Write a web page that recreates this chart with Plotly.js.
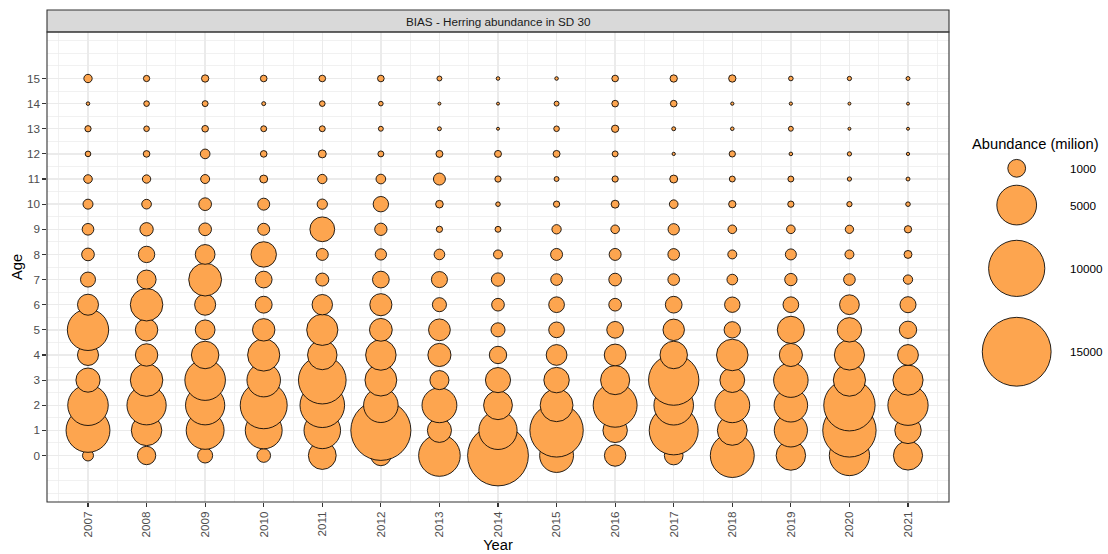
<!DOCTYPE html>
<html>
<head>
<meta charset="utf-8">
<script src="https://cdn.plot.ly/plotly-3.0.1.min.js"></script>
<style>
html,body{margin:0;padding:0;background:#ffffff;}
#chart{width:1108px;height:554px;}
</style>
</head>
<body>
<div id="chart"></div>
<script>
// ---------------- DATA ----------------
const years = [2007, 2008, 2009, 2010, 2011, 2012, 2013, 2014, 2015, 2016, 2017, 2018, 2019, 2020, 2021];
const ages  = [0, 1, 2, 3, 4, 5, 6, 7, 8, 9, 10, 11, 12, 13, 14, 15];
const yTickLabels = ['0','1','2','3','4','5','6','7','8','9','10','11','12','13','14','15'];
const xTickLabels = ['2007','2008','2009','2010','2011','2012','2013','2014','2015','2016','2017','2018','2019','2020','2021'];

// abundance (million) by age 0..15, one array per year
const ab2007 = [380, 6100, 5200, 1850, 1400, 5400, 1400, 715, 510, 430, 315, 235, 100, 125, 40, 220];
const ab2008 = [1070, 2950, 4880, 3350, 1590, 1590, 3350, 1150, 850, 565, 295, 220, 140, 100, 100, 125];
const ab2009 = [715, 4550, 4880, 5215, 2390, 1235, 1405, 3420, 1235, 510, 510, 255, 295, 140, 112, 170];
const ab2010 = [595, 4310, 6990, 3560, 3280, 1590, 900, 885, 2050, 455, 455, 200, 140, 112, 50, 140];
const ab2011 = [2450, 4230, 6300, 7190, 2750, 3080, 1320, 535, 455, 1945, 335, 275, 200, 112, 100, 140];
const ab2012 = [1320, 11430, 3780, 3210, 2945, 1640, 1545, 885, 405, 480, 750, 295, 112, 77, 67, 140];
const ab2013 = [5480, 1840, 3850, 1150, 1690, 1500, 625, 815, 360, 125, 185, 455, 155, 49, 21, 77];
const ab2014 = [11690, 4630, 2630, 2000, 955, 625, 510, 565, 255, 112, 67, 125, 153, 16, 21, 41];
const ab2015 = [3630, 9020, 3420, 2050, 1365, 780, 780, 430, 455, 275, 125, 77, 153, 100, 77, 41];
const ab2016 = [1455, 1890, 6115, 2690, 1500, 885, 510, 510, 455, 235, 200, 125, 112, 170, 140, 140];
const ab2017 = [1110, 7600, 4960, 8020, 2390, 1455, 885, 430, 430, 405, 235, 200, 34, 49, 140, 170];
const ab2018 = [6115, 2820, 3850, 1945, 3145, 850, 750, 360, 255, 235, 170, 112, 125, 41, 34, 170];
const ab2019 = [2750, 3490, 3560, 3775, 1690, 2330, 780, 480, 385, 235, 125, 112, 41, 77, 34, 67];
const ab2020 = [5130, 9020, 8350, 3280, 2880, 1890, 1235, 430, 255, 218, 88, 58, 58, 27, 3, 58];
const ab2021 = [2690, 2215, 5130, 2880, 1365, 955, 815, 275, 200, 170, 67, 49, 34, 12, 8, 49];
const abundanceByYear = [ab2007, ab2008, ab2009, ab2010, ab2011, ab2012, ab2013, ab2014,
                         ab2015, ab2016, ab2017, ab2018, ab2019, ab2020, ab2021];

const legendValues = [1000, 5000, 10000, 15000];
const legendLabels = ['1000', '5000', '10000', '15000'];
const stripTitle  = 'BIAS - Herring abundance in SD 30';
const legendTitle = 'Abundance (milion)';
const xTitle = 'Year';
const yTitle = 'Age';

// ---------------- LAYOUT / STYLE ----------------
const W = 1108, H = 554;
const M = {l: 47, r: 5, t: 32, b: 52};
const plotW = W - M.l - M.r;
const plotH = H - M.t - M.b;
const panelRightPx = 949;
const xDomEnd = (panelRightPx - M.l) / plotW;
const stripH = 22;

const FONT = 'Liberation Sans, Arial, sans-serif';
const FILL = '#FDA54F';
const diamPerSqrt = 0.562;                 // diameter(px) per sqrt(value)
const sizeref = 2 / (diamPerSqrt * diamPerSqrt);

const xs = [], ys = [], ss = [];
years.forEach((yr, i) => {
  ages.forEach((a, j) => {
    xs.push(yr); ys.push(a); ss.push(abundanceByYear[i][j]);
  });
});

const mainTrace = {
  type: 'scatter', mode: 'markers',
  x: xs, y: ys,
  xaxis: 'x', yaxis: 'y',
  marker: {
    size: ss, sizemode: 'area', sizeref: sizeref, sizemin: 1.5,
    color: FILL, opacity: 1,
    line: {color: '#000000', width: 0.85}
  },
  hoverinfo: 'skip', showlegend: false
};

// size legend: keys stacked in pixel space (x2/y2 axes are pixel coordinates)
const keyX = 1016.7;
const keyDiam = legendValues.map(v => diamPerSqrt * Math.sqrt(v));
const keyH = keyDiam.map(d => 1.38 * d - 2.9);
const keyY = [];
keyH.forEach((h, i) => {
  keyY.push(i === 0 ? 168.3 : keyY[i - 1] + (keyH[i - 1] + h) / 2);
});

const legendTrace = {
  type: 'scatter', mode: 'markers',
  x: legendValues.map(() => keyX), y: keyY,
  xaxis: 'x2', yaxis: 'y2',
  marker: {
    size: legendValues, sizemode: 'area', sizeref: sizeref,
    color: FILL, opacity: 1,
    line: {color: '#000000', width: 0.85}
  },
  hoverinfo: 'skip', showlegend: false, cliponaxis: false
};

const annotations = [
  {xref: 'paper', yref: 'paper', x: xDomEnd / 2, y: 1 + (stripH / 2) / plotH,
   xanchor: 'center', yanchor: 'middle', showarrow: false, text: stripTitle,
   font: {family: FONT, size: 11.7, color: '#1A1A1A'}},
  {xref: 'x2', yref: 'y2', x: 970, y: 144, xanchor: 'left', yanchor: 'middle',
   showarrow: false, text: legendTitle,
   font: {family: FONT, size: 14.7, color: '#000000'}}
];
legendLabels.forEach((t, i) => {
  annotations.push({xref: 'x2', yref: 'y2', x: 1068, y: keyY[i], xanchor: 'left', yanchor: 'middle',
    showarrow: false, text: t, font: {family: FONT, size: 11.7, color: '#000000'}});
});

const gridC = '#EBEBEB';
const layout = {
  width: W, height: H,
  margin: M,
  paper_bgcolor: '#ffffff', plot_bgcolor: 'rgba(0,0,0,0)',
  showlegend: false,
  font: {family: FONT},
  xaxis: {
    domain: [0, xDomEnd], range: [2006.3, 2021.7], anchor: 'y',
    tickmode: 'array', tickvals: years, ticktext: xTickLabels, tickangle: -90,
    ticks: 'outside', ticklen: 3.7, tickwidth: 1.1, tickcolor: '#333333',
    tickfont: {family: FONT, size: 11.7, color: '#4D4D4D'},
    showgrid: true, gridcolor: gridC, gridwidth: 1.4,
    minor: {dtick: 0.5, tick0: 2006.5, showgrid: true, gridcolor: gridC, gridwidth: 0.7, ticks: ''},
    zeroline: false, showline: false,
    title: {text: xTitle, font: {family: FONT, size: 14.7, color: '#000000'}, standoff: 1}
  },
  yaxis: {
    domain: [0, 1], range: [-1.85, 16.85], anchor: 'x',
    tickmode: 'array', tickvals: ages, ticktext: yTickLabels,
    ticks: 'outside', ticklen: 3.7, tickwidth: 1.1, tickcolor: '#333333',
    tickfont: {family: FONT, size: 11.7, color: '#4D4D4D'},
    showgrid: true, gridcolor: gridC, gridwidth: 1.4,
    minor: {dtick: 0.5, tick0: 0, showgrid: true, gridcolor: gridC, gridwidth: 0.7, ticks: ''},
    zeroline: false, showline: false,
    title: {text: yTitle, font: {family: FONT, size: 14.7, color: '#000000'}, standoff: 0}
  },
  xaxis2: {domain: [0, 1], range: [M.l, W - M.r], anchor: 'y2', visible: false, fixedrange: true},
  yaxis2: {domain: [0, 1], range: [H - M.b, M.t], anchor: 'x2', visible: false, fixedrange: true},
  shapes: [
    {type: 'rect', xref: 'paper', yref: 'paper', x0: 0, x1: xDomEnd, y0: 1, y1: 1 + stripH / plotH,
     fillcolor: '#D9D9D9', line: {color: '#333333', width: 1.1}, layer: 'above'},
    {type: 'rect', xref: 'paper', yref: 'paper', x0: 0, x1: xDomEnd, y0: 0, y1: 1,
     fillcolor: 'rgba(0,0,0,0)', line: {color: '#333333', width: 1.1}, layer: 'above'}
  ],
  annotations: annotations
};

Plotly.newPlot('chart', [mainTrace, legendTrace], layout, {displayModeBar: false, staticPlot: true});
</script>
</body>
</html>
